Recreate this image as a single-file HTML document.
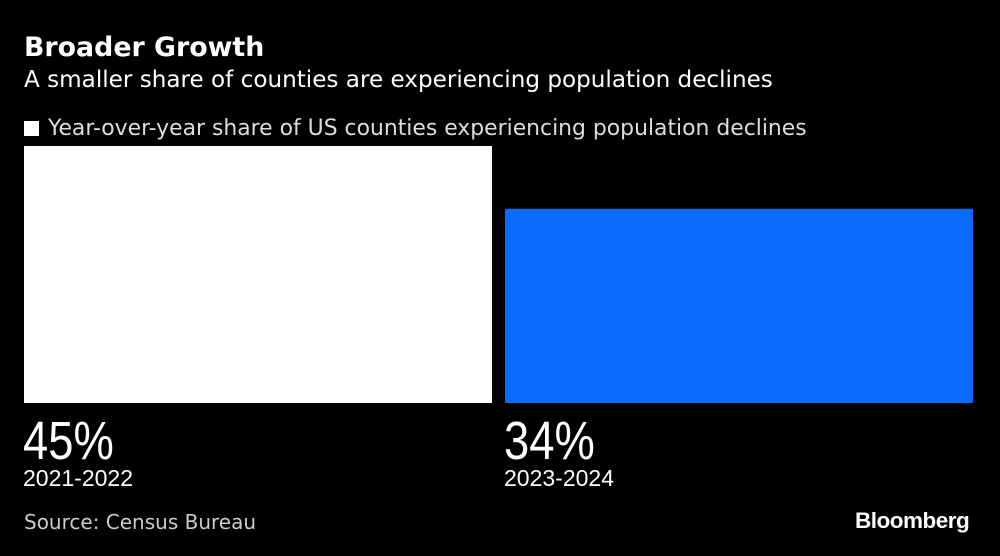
<!DOCTYPE html>
<html><head><meta charset="utf-8"><style>
body{margin:0;background:#000;width:1000px;height:556px;overflow:hidden;font-family:"DejaVu Sans","Liberation Sans",sans-serif;color:#fff}
.t{position:absolute;white-space:nowrap}
</style></head><body>
<div class="t" style="left:24px;top:32px;font:bold 26.8px 'DejaVu Sans','Liberation Sans',sans-serif">Broader Growth</div>
<div class="t" style="left:24px;top:67px;font-size:23.1px">A smaller share of counties are experiencing population declines</div>
<div class="t" style="left:24px;top:116px;font-size:21.9px;color:#ddd"><span style="display:inline-block;width:15px;height:15px;background:#fff;margin-right:9px;vertical-align:-1px"></span>Year-over-year share of US counties experiencing population declines</div>
<svg id="chart" width="1000" height="556" style="position:absolute;left:0;top:0"></svg>
<div class="t" style="left:24px;top:510px;font-size:20px;color:#ccc">Source: Census Bureau</div>
<div class="t" style="left:855px;top:508px;font:bold 22.5px 'Liberation Sans',sans-serif;letter-spacing:-0.5px">Bloomberg</div>
<script>
const categories=["2021-2022","2023-2024"];
const values=[45,34];
const colors=["#ffffff","#0a6cff"];
const svg=document.getElementById('chart');
const base=403, scale=257/45;
const y=v=>base-v*scale;
const x=i=>24+i*481;
const bw=468;
const NS="http://www.w3.org/2000/svg";
values.forEach((v,i)=>{
  const r=document.createElementNS(NS,'rect');
  
  
  r.setAttribute('x',x(i));r.setAttribute('y',y(v));r.setAttribute('width',bw);r.setAttribute('height',base-y(v));r.setAttribute('fill',colors[i]);
  svg.appendChild(r);
  const t=document.createElementNS(NS,'text');
  
  
  t.setAttribute('transform','translate('+(x(i)-1)+',459) scale(0.84,1)');
  t.setAttribute('fill','#fff');
  t.setAttribute('style',"font-size:54px;font-family:'Liberation Sans',sans-serif");
  t.textContent=v+'%';svg.appendChild(t);
  const c=document.createElementNS(NS,'text');
  
  
  c.setAttribute('x',x(i)-1);c.setAttribute('y',486);c.setAttribute('fill','#fff');
  c.setAttribute('style',"font-size:23px;font-family:'Liberation Sans',sans-serif");
  c.textContent=categories[i];svg.appendChild(c);
});
</script>
</body></html>
